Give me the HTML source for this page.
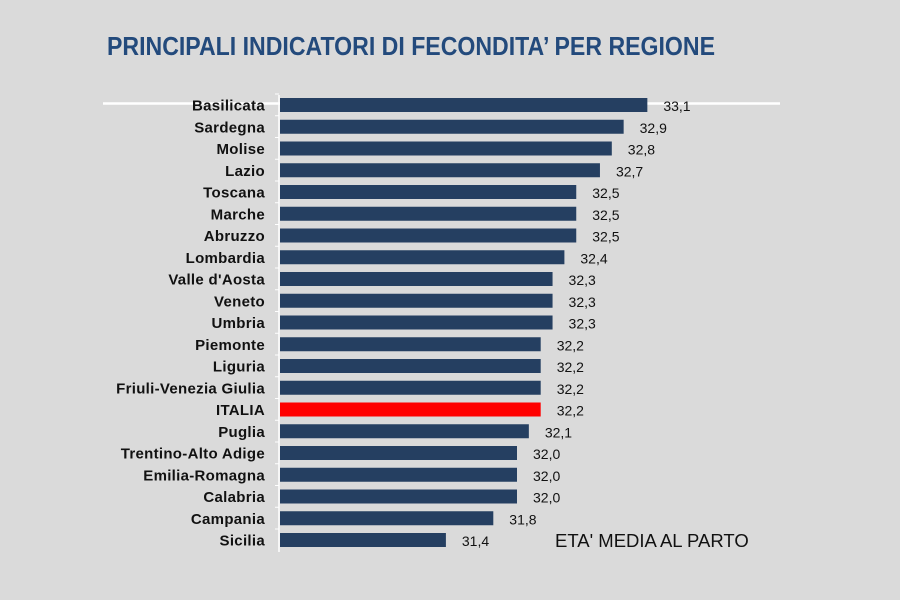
<!DOCTYPE html>
<html><head><meta charset="utf-8"><style>
html,body{margin:0;padding:0;background:#dadada;}
svg{display:block;}
</style></head><body>
<svg width="900" height="600" xmlns="http://www.w3.org/2000/svg" font-family="Liberation Sans, Arial, sans-serif">
<rect width="900" height="600" fill="#dadada"/>
<text x="107" y="55" font-size="26" font-weight="bold" fill="#234a7c" textLength="608" lengthAdjust="spacingAndGlyphs">PRINCIPALI INDICATORI DI FECONDITA’ PER REGIONE</text>
<line x1="103" y1="103.5" x2="780" y2="103.5" stroke="#ffffff" stroke-width="2.5"/>
<line x1="279" y1="95" x2="279" y2="552" stroke="#ffffff" stroke-width="1.5"/>
<g id="rows"></g>
<text x="555" y="547" font-size="18.5" fill="#111">ETA' MEDIA AL PARTO</text>
</svg>
<script>
var d=[["Basilicata",33.1],["Sardegna",32.9],["Molise",32.8],["Lazio",32.7],["Toscana",32.5],["Marche",32.5],["Abruzzo",32.5],["Lombardia",32.4],["Valle d'Aosta",32.3],["Veneto",32.3],["Umbria",32.3],["Piemonte",32.2],["Liguria",32.2],["Friuli-Venezia Giulia",32.2],["ITALIA",32.2],["Puglia",32.1],["Trentino-Alto Adige",32.0],["Emilia-Romagna",32.0],["Calabria",32.0],["Campania",31.8],["Sicilia",31.4]];
var g=document.getElementById("rows"),s="";
d.forEach(function(r,i){
 var y=98+i*21.75, w=(r[1]-30)*118.5, c=r[0]=="ITALIA"?"#ff0000":"#253f61";
 s+='<line x1="275" y1="'+(y-4)+'" x2="279" y2="'+(y-4)+'" stroke="#fff" stroke-width="1"/>';
 s+='<rect x="280" y="'+y+'" width="'+w+'" height="14" fill="'+c+'"/>';
 s+='<text x="265" y="'+(y+12.5)+'" font-size="15" letter-spacing="0.3" font-weight="bold" text-anchor="end" fill="#111">'+r[0]+'</text>';
 s+='<text x="'+(280+w+16)+'" y="'+(y+13)+'" font-size="14" fill="#111">'+r[1].toFixed(1).replace(".",",")+'</text>';
});
g.innerHTML=s;
</script>
</body></html>
